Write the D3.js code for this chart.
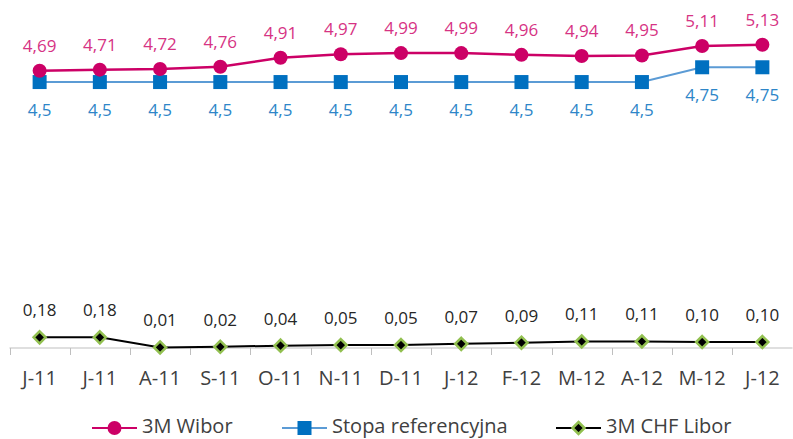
<!DOCTYPE html>
<html><head><meta charset="utf-8">
<script src="https://cdn.jsdelivr.net/npm/d3@7"></script>
<style>body{margin:0;background:#fff;}svg{display:block;font-family:"Open Sans",sans-serif;}</style>
</head><body><svg id="c" width="793" height="439"></svg>
<script>
const categories = ["J-11","J-11","A-11","S-11","O-11","N-11","D-11","J-12","F-12","M-12","A-12","M-12","J-12"];
const wibor = [4.69,4.71,4.72,4.76,4.91,4.97,4.99,4.99,4.96,4.94,4.95,5.11,5.13];
const stopa = [4.5,4.5,4.5,4.5,4.5,4.5,4.5,4.5,4.5,4.5,4.5,4.75,4.75];
const libor = [0.18,0.18,0.01,0.02,0.04,0.05,0.05,0.07,0.09,0.11,0.11,0.10,0.10];
const seriesNames = ["3M Wibor","Stopa referencyjna","3M CHF Libor"];

const svg = d3.select("#c");
const fmt = v => String(v).replace(".", ",");
const x = d3.scaleBand().domain(d3.range(categories.length)).range([9.5, 792.5]);
const y = d3.scaleLinear().domain([0, 6]).range([348, 348 - 59.1*6]);
const cx = i => x(i) + x.bandwidth()/2;

// axis
const ax = svg.append("g").attr("transform","translate(0,348)");
ax.append("line").attr("x1",9.5).attr("x2",792.5).attr("stroke","#bfbfbf");
const bounds = d3.range(categories.length+1).map(i => i < categories.length ? x(i) : x(categories.length-1)+x.bandwidth());
ax.selectAll("line.t").data(bounds).join("line").attr("class","t")
  .attr("x1",d=>Math.round(d)+0.5).attr("x2",d=>Math.round(d)+0.5).attr("y1",0).attr("y2",7).attr("stroke","#bfbfbf");
ax.selectAll("text").data(categories).join("text")
  .attr("x",(d,i)=>cx(i)).attr("y",37).attr("text-anchor","middle")
  .attr("font-size",20).attr("fill","#404040").text(d=>d);

const line = d3.line().x((d,i)=>cx(i)).y(d=>y(d));

// Stopa
svg.append("path").datum(stopa).attr("d",line).attr("fill","none").attr("stroke","#5b9bd5").attr("stroke-width",2);
svg.selectAll("rect.s").data(stopa).join("rect").attr("class","s")
  .attr("x",(d,i)=>cx(i)-7).attr("y",d=>y(d)-7).attr("width",14).attr("height",14).attr("fill","#0070c0");
svg.selectAll("text.s").data(stopa).join("text").attr("class","s")
  .attr("x",(d,i)=>cx(i)).attr("y",d=>y(d)+34).attr("text-anchor","middle")
  .attr("font-size",17).attr("fill","#2e86c8").text(fmt);

// Wibor
svg.append("path").datum(wibor).attr("d",line).attr("fill","none").attr("stroke","#cc0066").attr("stroke-width",2.5);
svg.selectAll("circle.w").data(wibor).join("circle").attr("class","w")
  .attr("cx",(d,i)=>cx(i)).attr("cy",d=>y(d)).attr("r",7).attr("fill","#cc0066");
svg.selectAll("text.w").data(wibor).join("text").attr("class","w")
  .attr("x",(d,i)=>cx(i)).attr("y",d=>y(d)-19).attr("text-anchor","middle")
  .attr("font-size",17).attr("fill","#d63384").text(fmt);

// Libor
svg.append("path").datum(libor).attr("d",line).attr("fill","none").attr("stroke","#000").attr("stroke-width",2);
const diamond = (px,py,r) => `M${px},${py-r}L${px+r},${py}L${px},${py+r}L${px-r},${py}Z`;
svg.selectAll("path.l").data(libor).join("path").attr("class","l")
  .attr("d",(d,i)=>diamond(cx(i),y(d),6)).attr("fill","#000").attr("stroke","#92c050").attr("stroke-width",2.5);
svg.selectAll("text.l").data(libor).join("text").attr("class","l")
  .attr("x",(d,i)=>cx(i)).attr("y",d=>y(d)-21).attr("text-anchor","middle")
  .attr("font-size",17).attr("fill","#262626").text(d=>d.toFixed(2).replace(".",","));

// legend
const ly = 428;
const lg = svg.append("g");
const items = [
  {name:seriesNames[0], x0:92, stroke:"#cc0066", type:"c"},
  {name:seriesNames[1], x0:282, stroke:"#5b9bd5", type:"s"},
  {name:seriesNames[2], x0:556, stroke:"#000", type:"d"}
];
items.forEach(it=>{
  lg.append("line").attr("x1",it.x0).attr("x2",it.x0+45).attr("y1",ly).attr("y2",ly).attr("stroke",it.stroke).attr("stroke-width",2);
  const m = it.x0+22.5;
  if(it.type==="c") lg.append("circle").attr("cx",m).attr("cy",ly).attr("r",7).attr("fill","#cc0066");
  if(it.type==="s") lg.append("rect").attr("x",m-7).attr("y",ly-7).attr("width",14).attr("height",14).attr("fill","#0070c0");
  if(it.type==="d") lg.append("path").attr("d",diamond(m,ly,6)).attr("fill","#000").attr("stroke","#92c050").attr("stroke-width",2.5);
  lg.append("text").attr("x",it.x0+50).attr("y",ly+5).attr("font-size",20).attr("fill","#404040").text(it.name);
});
</script></body></html>
